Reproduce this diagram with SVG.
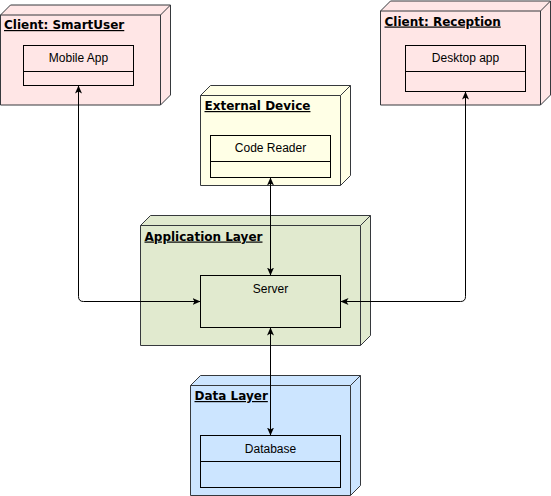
<svg xmlns="http://www.w3.org/2000/svg" width="551" height="496" viewBox="0 0 551 496">
<style>
.node{stroke:#36393d;stroke-width:1;}
.pink{fill:#ffe6e6;}
.yellow{fill:#ffffe6;}
.green{fill:#e1eacf;}
.blue{fill:#cce5ff;}
.edge3d{fill:none;stroke:#36393d;stroke-width:1;}
.box{fill:none;stroke:#000;stroke-width:1;}
.title{font-family:"DejaVu Sans",Verdana,sans-serif;font-size:12px;font-weight:bold;fill:#000;text-decoration:underline;}
.label{font-family:"Liberation Sans",Arial,Helvetica,sans-serif;font-size:12px;fill:#000;text-anchor:middle;}
.conn{fill:none;stroke:#000;stroke-width:1;marker-start:url(#arrow);marker-end:url(#arrow);}
</style>
<defs>
<marker id="arrow" markerUnits="userSpaceOnUse" viewBox="0 0 8 7" refX="8" refY="3.5" markerWidth="8" markerHeight="7" orient="auto-start-reverse">
<path d="M0,0 L8,3.5 L0,7 L2,3.5 Z" fill="#000"/>
</marker>
</defs>
<rect width="551" height="496" fill="#fff"/>

<g id="client-smartuser">
<path class="node pink" d="M0.5,15 L10.5,5 L170.5,5 L170.5,95 L160.5,105 L0.5,105 Z"/>
<path class="edge3d" d="M0.5,15 L160.5,15 L170.5,5 M160.5,15 L160.5,105"/>
<text class="title" x="4" y="29">Client: SmartUser</text>
<g id="mobile-app">
<rect class="box" x="23.5" y="45.5" width="110" height="40"/>
<line class="box" x1="23.5" y1="71.5" x2="133.5" y2="71.5"/>
<text class="label" x="78.5" y="62">Mobile App</text>
</g>
</g>

<g id="client-reception">
<path class="node pink" d="M380.5,11 L390.5,1 L550.5,1 L550.5,95 L540.5,105 L380.5,105 Z"/>
<path class="edge3d" d="M380.5,11 L540.5,11 L550.5,1 M540.5,11 L540.5,105"/>
<text class="title" x="384.5" y="25.5">Client: Reception</text>
<g id="desktop-app">
<rect class="box" x="405.5" y="45.5" width="120" height="46"/>
<line class="box" x1="405.5" y1="71.5" x2="525.5" y2="71.5"/>
<text class="label" x="465.5" y="62">Desktop app</text>
</g>
</g>

<g id="external-device">
<path class="node yellow" d="M200.5,95.5 L210.5,85.5 L350.5,85.5 L350.5,175.5 L340.5,185.5 L200.5,185.5 Z"/>
<path class="edge3d" d="M200.5,95.5 L340.5,95.5 L350.5,85.5 M340.5,95.5 L340.5,185.5"/>
<text class="title" x="204.5" y="110">External Device</text>
<g id="code-reader">
<rect class="box" x="210.5" y="135.5" width="120" height="42"/>
<line class="box" x1="210.5" y1="161.5" x2="330.5" y2="161.5"/>
<text class="label" x="270.5" y="152">Code Reader</text>
</g>
</g>

<g id="application-layer">
<path class="node green" d="M140.5,225.5 L150.5,215.5 L370.5,215.5 L370.5,335.5 L360.5,345.5 L140.5,345.5 Z"/>
<path class="edge3d" d="M140.5,225.5 L360.5,225.5 L370.5,215.5 M360.5,225.5 L360.5,345.5"/>
<text class="title" x="144.5" y="240.5">Application Layer</text>
<g id="server">
<rect class="box" x="200.5" y="275.5" width="140" height="52"/>
<text class="label" x="270.5" y="292.5">Server</text>
</g>
</g>

<g id="data-layer">
<path class="node blue" d="M190.5,385.5 L200.5,375.5 L360.5,375.5 L360.5,485.5 L350.5,495.5 L190.5,495.5 Z"/>
<path class="edge3d" d="M190.5,385.5 L350.5,385.5 L360.5,375.5 M350.5,385.5 L350.5,495.5"/>
<text class="title" x="194.5" y="400">Data Layer</text>
<g id="database">
<rect class="box" x="200.5" y="435.5" width="140" height="52"/>
<line class="box" x1="200.5" y1="461.5" x2="340.5" y2="461.5"/>
<text class="label" x="270.5" y="452.5">Database</text>
</g>
</g>

<g id="connectors">
<path class="conn" d="M78.5,85.5 L78.5,296.5 Q78.5,301.5 83.5,301.5 L200.5,301.5"/>
<path class="conn" d="M465.5,91.5 L465.5,296.5 Q465.5,301.5 460.5,301.5 L340.5,301.5"/>
<path class="conn" d="M270.5,177.5 L270.5,275.5"/>
<path class="conn" d="M270.5,327.5 L270.5,435.5"/>
</g>
</svg>
